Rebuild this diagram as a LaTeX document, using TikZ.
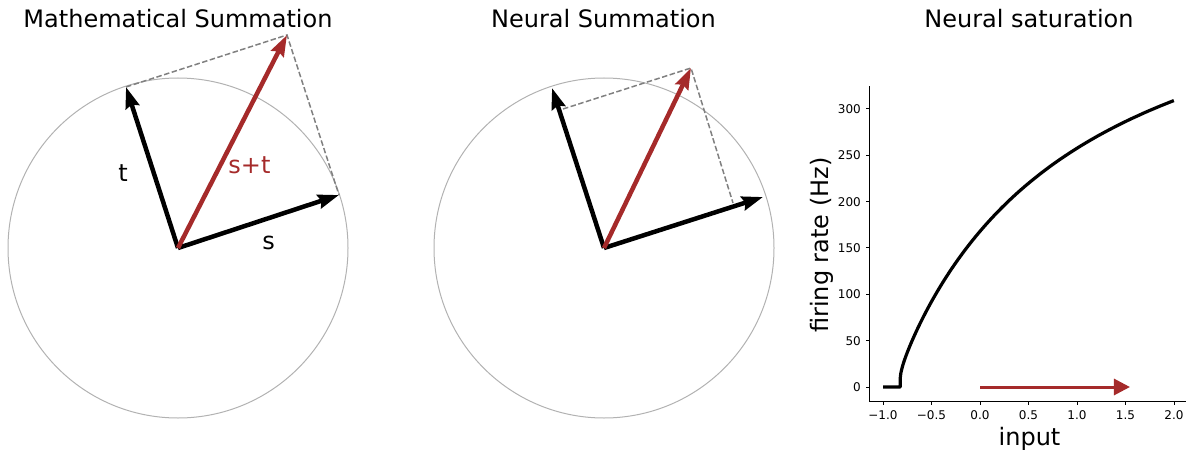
\documentclass[tikz,border=0pt]{standalone}
\usepackage{fontspec}
\setmainfont{DejaVu Sans}
\usetikzlibrary{arrows.meta}
\definecolor{vred}{HTML}{A52A2A}
\definecolor{circgray}{HTML}{B2B2B2}
\definecolor{dashgray}{HTML}{808080}
\tikzset{
  titletext/.style={anchor=base, font=\fontsize{24}{28}\selectfont, inner sep=0pt},
  vlabel/.style={anchor=base, font=\fontsize{24}{28}\selectfont, inner sep=0pt},
  ticklabel/.style={font=\fontsize{12}{14}\selectfont, inner sep=0pt},
  unitcirc/.style={draw=circgray, line width=1pt},
  guide/.style={draw=dashgray, line width=1.5pt, dash pattern=on 5.5pt off 2.5pt},
  vec/.style={line width=4.5pt, -{Stealth[length=21pt,width=14pt,inset=2.5pt]}},
  blackvec/.style={vec, draw=black, fill=black},
  redvec/.style={vec, draw=vred, fill=vred},
  spine/.style={draw=black, line width=1pt},
  tickmark/.style={draw=black, line width=1pt},
  ratecurve/.style={draw=black, line width=3.2pt, line join=round},
  inputarrow/.style={draw=vred, line width=3pt, -{Triangle[length=16pt,width=16pt]}}
}
\begin{document}
\begin{tikzpicture}[x=1pt,y=-1pt]
\useasboundingbox (0,0) rectangle (1186,452);

% ---------- Panel 1: Mathematical Summation ----------
\node[titletext] (title1) at (178,28) {Mathematical Summation};
\coordinate (O1) at (178,248);
\coordinate (S1) at (339,195);
\coordinate (T1) at (126,87);
\coordinate (ST1) at (287,35);
\draw[unitcirc] (O1) circle[radius=170pt];
\draw[guide] (T1) -- (ST1) -- (S1);
\draw[blackvec] (O1) -- (S1);
\draw[blackvec] (O1) -- (T1);
\draw[redvec] (O1) -- (ST1);
\node[vlabel] (lt) at (123,181) {t};
\node[vlabel, text=vred] (lst) at (249.5,173) {s+t};
\node[vlabel] (ls) at (268.5,249) {s};

% ---------- Panel 2: Neural Summation ----------
\node[titletext] (title2) at (603.5,28) {Neural Summation};
\coordinate (O2) at (604,248);
\coordinate (S2) at (763,197);
\coordinate (T2) at (552,88);
\coordinate (ST2) at (691,68);
\coordinate (PS2) at (733,203);
\coordinate (PT2) at (563,109);
\draw[unitcirc] (O2) circle[radius=170pt];
\draw[guide] (PT2) -- (ST2) -- (PS2);
\draw[blackvec] (O2) -- (S2);
\draw[blackvec] (O2) -- (T2);
\draw[redvec] (O2) -- (ST2);

% ---------- Panel 3: Neural saturation ----------
\node[titletext] (title3) at (1029,28) {Neural saturation};
\node[vlabel] (xlab) at (1029.5,445) {input};
\node[vlabel, rotate=90] (ylab) at (828,245) {firing rate (Hz)};

\begin{scope}[xshift=980pt, yshift=-387pt, x=97pt, y=0.9267pt]
  \coordinate (axtop) at (-1.1443,324.5);
  \coordinate (axorig) at (-1.1443,-15.45);
  \coordinate (axright) at (2.124,-15.45);
  \draw[spine] (axtop) -- (axorig) -- (axright);
  \foreach \v/\lab in {-1/−1.0, -0.5/−0.5, 0/0.0, 0.5/0.5, 1/1.0, 1.5/1.5, 2/2.0} {
    \draw[tickmark] (\v,-15.45) -- ++(0pt,-3.5pt);
    \node[ticklabel, anchor=base] at ([yshift=-18pt]\v,-15.45) {\lab};
  }
  \foreach \v in {0,50,100,150,200,250,300} {
    \draw[tickmark] (-1.1443,\v) -- ++(-3.5pt,0pt);
    \node[ticklabel, anchor=east] at ([xshift=-8pt]-1.1443,\v) {\v};
  }
  \draw[ratecurve] (-1,0) -- (-0.823,0) -- plot[variable=\t, domain=0.02:1.6802, samples=120, smooth]
    ({-0.823+\t*\t},{1000/(2+20*ln(1+1/(5.56*\t*\t)))});
  \coordinate (in0) at (0,0);
  \coordinate (in1) at (1.546,0);
  \draw[inputarrow] (in0) -- (in1);
\end{scope}
\end{tikzpicture}
\end{document}
